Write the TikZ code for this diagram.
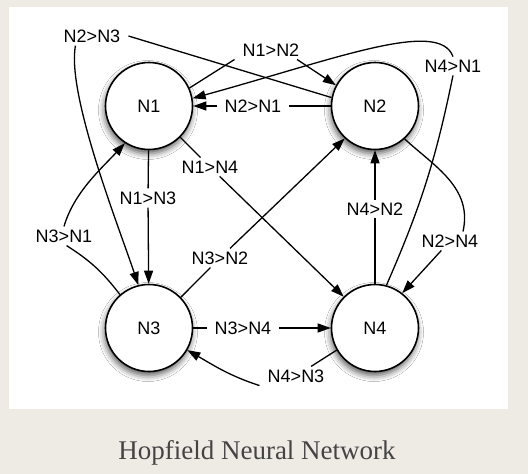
\documentclass[tikz,border=0pt]{standalone}
\usepackage{fontspec}
\setmainfont{Liberation Serif}
\setsansfont{Liberation Sans}
\usetikzlibrary{arrows.meta, shadows.blur}
\definecolor{paper}{RGB}{238,235,229}
\definecolor{captiongray}{RGB}{68,68,68}

\begin{document}
\begin{tikzpicture}[x=1pt, y=-1pt,
        main/.style = {draw, circle, line width=1.6pt, fill=white, minimum size=87pt, inner sep=0pt,
            font=\sffamily\fontsize{18}{20}\selectfont,
            blur shadow={shadow xshift=-1pt, shadow yshift=-4pt, shadow blur radius=6pt, shadow opacity=65}},
        lbl/.style = {inner xsep=8pt, inner ysep=3pt, font=\sffamily\fontsize{18}{20}\selectfont},
        ln/.style = {line width=1.3pt},
        ar/.style = {ln, -{Triangle[length=13pt, width=9pt]}}]

        % page and white panel
        \fill[paper] (0,0) rectangle (528,474);
        \fill[white] (9,7) rectangle (508,409);

        \node[main] (n1) at (149,106) {N1};
        \node[main] (n2) at (375,106) {N2};
        \node[main] (n3) at (149,328) {N3};
        \node[main] (n4) at (375,328) {N4};

        \node[lbl] (l12) at (271,50) {N1>N2};
        \node[lbl] (l21) at (253,106) {N2>N1};
        \node[lbl] (l23) at (92,36) {N2>N3};
        \node[lbl] (l41) at (453,66) {N4>N1};
        \node[lbl] (l13) at (148,198) {N1>N3};
        \node[lbl] (l14) at (210,167) {N1>N4};
        \node[lbl] (l31) at (64,236) {N3>N1};
        \node[lbl] (l32) at (220,258) {N3>N2};
        \node[lbl] (l42) at (375,209) {N4>N2};
        \node[lbl] (l24) at (450,241) {N2>N4};
        \node[lbl] (l34) at (243,328) {N3>N4};
        \node[lbl] (l43) at (296,376) {N4>N3};

        % N1 -> N2
        \draw[ln] (n1.24) -- (l12.south west);
        \draw[ar] (l12.-20) -- (n2.152);
        % N2 -> N1
        \draw[ln] (n2) -- (l21);
        \draw[ar] (l21) -- (n1);
        % N2 -> N3
        \draw[ln] (n2.169) -- (l23.east);
        \draw[ar] (l23.210) .. controls +(-9,49) and +(-19,-57) .. (n3.104);
        % N4 -> N1
        \draw[ln] (n4.75) to[bend right=6] (l41.south);
        \draw[ar] (l41.north) .. controls +(-14,-38) and +(145,-40) .. (n1.10);
        % N1 -> N3
        \draw[ln] (n1) -- (l13);
        \draw[ar] (l13) -- (n3);
        % N1 -> N4
        \draw[ln] (n1.-45) -- (l14);
        \draw[ar] (l14) -- (n4.135);
        % N3 -> N1
        \draw[ln] (n3.131) to[bend right=10] (l31.-75);
        \draw[ar] (l31.north) .. controls +(10,-34) and +(-24,26) .. (n1.237);
        % N3 -> N2
        \draw[ln] (n3.44) -- (l32);
        \draw[ar] (l32) -- (n2.227);
        % N4 -> N2
        \draw[ln] (n4) -- (l42);
        \draw[ar] (l42) -- (n2);
        % N2 -> N4
        \draw[ln] (n2.-48) .. controls +(29,27) and +(10,-44) .. ([xshift=13pt]l24.north);
        \draw[ar] (l24) -- (n4.52);
        % N3 -> N4
        \draw[ln] (n3) -- (l34);
        \draw[ar] (l34) -- (n4);
        % N4 -> N3
        \draw[ln] (n4.210) -- (l43);
        \draw[ar] (l43.south west) to[out=162, in=-30] (n3);

        \node[anchor=base, text=captiongray, font=\fontsize{27}{30}\selectfont] (caption) at (257,459) {Hopfield Neural Network};
    \end{tikzpicture}
\end{document}
